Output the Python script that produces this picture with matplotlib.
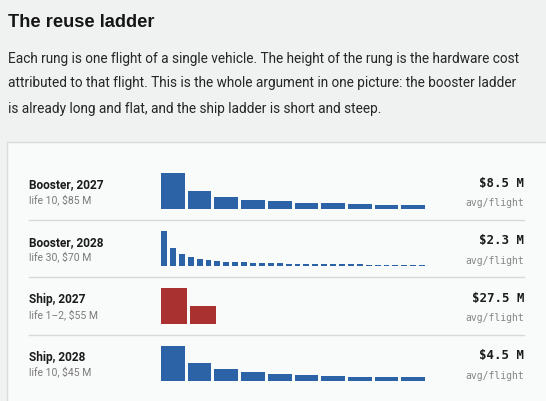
import matplotlib
matplotlib.use("Agg")
import matplotlib.pyplot as plt
from matplotlib.patches import Rectangle

# rows of the ladder
names = ["Booster, 2027", "Booster, 2028", "Ship, 2027", "Ship, 2028"]
subs = ["life 10, $85 M", "life 30, $70 M", "life 1\u20132, $55 M", "life 10, $45 M"]
avg_cost = [8.5, 2.3, 27.5, 4.5]
bar_colors = ["#2c63a7", "#2c63a7", "#a93231", "#2c63a7"]

# hardware cost attributed to each flight ($M), one list per vehicle
booster_2027 = [85, 42.5, 28.3, 21.3, 17.0, 14.2, 12.1, 10.6, 9.4, 8.5]
booster_2028 = [70, 35, 23.3, 17.5, 14.0, 11.7, 10.0, 8.8, 7.8, 7.0,
                6.4, 5.8, 5.4, 5.0, 4.7, 4.4, 4.1, 3.9, 3.7, 3.5,
                3.3, 3.2, 3.0, 2.9, 2.8, 2.7, 2.6, 2.5, 2.4, 2.3]
ship_2027 = [55, 27.5]
ship_2028 = [45, 22.5, 15.0, 11.3, 9.0, 7.5, 6.4, 5.6, 5.0, 4.5]
ladders = [booster_2027, booster_2028, ship_2027, ship_2028]

title = "The reuse ladder"
intro = ["Each rung is one flight of a single vehicle. The height of the rung is the hardware cost",
         "attributed to that flight. This is the whole argument in one picture: the booster ladder",
         "is already long and flat, and the ship ladder is short and steep."]

W, H = 546, 402
fig = plt.figure(figsize=(W / 100, H / 100), dpi=100)
fig.patch.set_facecolor("#f0f1f1")
bg = fig.add_axes([0, 0, 1, 1])
bg.set_xlim(0, W)
bg.set_ylim(H, 0)
bg.axis("off")
renderer = fig.canvas.get_renderer()


def fit(t, width):
    # scale font so the text spans the given pixel width
    w = t.get_window_extent(renderer).width
    t.set_fontsize(t.get_fontsize() * width / w)
    return t.get_fontsize()


t = bg.text(8, 27.3, title, fontsize=13, fontweight="bold", family="Liberation Sans",
            color="#151515")
fit(t, 146)

body = []
for i, line in enumerate(intro):
    body.append(bg.text(8, 62.5 + 25 * i, line, fontsize=11, family="Roboto", color="#262626"))
fs = fit(body[0], 509)
for b in body[1:]:
    b.set_fontsize(fs)

# card
bg.add_patch(Rectangle((6.5, 143), 600, 400, facecolor="#f9fafa", edgecolor="#d9dcdc", lw=1))

row0 = 184
pitch = 57.5
bar_x0, bar_w, bar_h = 161, 267, 35.5

name_t, sub_t, val_t, avg_t = [], [], [], []
for i in range(4):
    y = row0 + pitch * i
    name_t.append(bg.text(29, y + 4.3, names[i], fontsize=9, fontweight="bold",
                          family="Roboto", color="#1b1b1b"))
    sub_t.append(bg.text(29, y + 18.9, subs[i], fontsize=8, family="Roboto", color="#7a7a7a"))
    val_t.append(bg.text(524, y + 2.8, f"${avg_cost[i]} M", fontsize=9, fontweight="bold",
                         family="DejaVu Sans Mono", color="#1b1b1b", ha="right"))
    avg_t.append(bg.text(524, y + 22.5, "avg/flight", fontsize=7, family="DejaVu Sans Mono",
                         color="#858585", ha="right"))
    if i < 3:
        bg.plot([29, 524], [y + 36.7, y + 36.7], color="#d6d9d9", lw=1)

for group, width in [(name_t, 75), (sub_t, 62), (val_t, None), (avg_t, 59)]:
    if width is None:
        fs = fit(group[2], 52)
    else:
        fs = fit(group[0], width)
    for g in group:
        g.set_fontsize(fs)

# one small axes per ladder, bars scaled to the first rung
for i, vals in enumerate(ladders):
    base = row0 + pitch * i + 25.5
    ax = fig.add_axes([bar_x0 / W, 1 - base / H, bar_w / W, bar_h / H])
    slot = min(bar_w / len(vals), 29)
    n_slots = bar_w / slot
    ax.bar(range(len(vals)), vals, width=(slot - 3) / slot, align="edge",
           color=bar_colors[i], linewidth=0)
    ax.set_xlim(0, n_slots)
    ax.set_ylim(0, vals[0])
    ax.axis("off")

fig.savefig("out.png", dpi=100, facecolor=fig.get_facecolor())
